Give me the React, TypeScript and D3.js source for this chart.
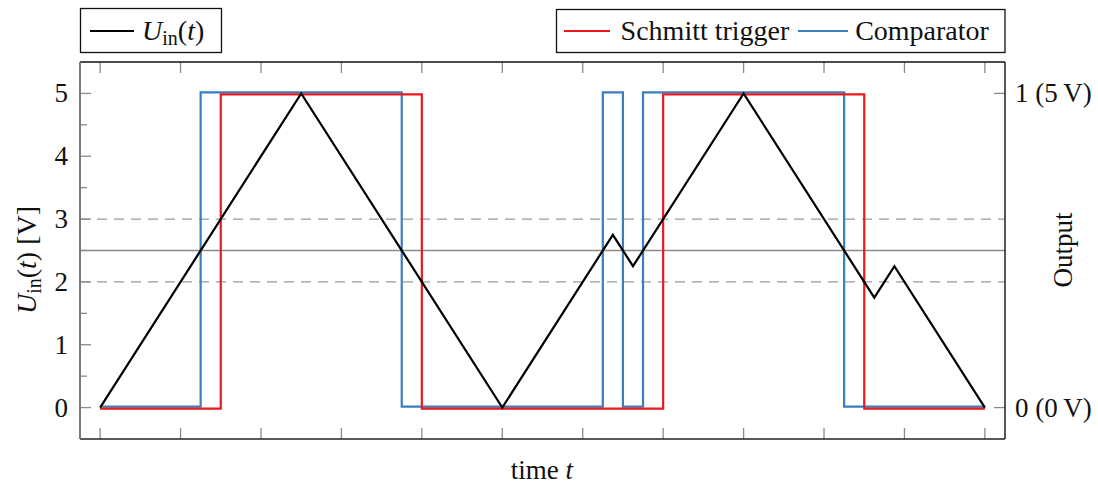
import React from "react";
import * as d3 from "d3";

// ---- data ----
const inputTimes = [0, 2.5, 5, 6.375, 6.625, 8, 9.625, 9.875, 11];
const inputValues = [0, 5, 0, 2.75, 2.25, 5, 1.75, 2.25, 0];

const comparatorTimes = [0, 1.25, 3.75, 6.25, 6.5, 6.75, 9.25, 11];
const comparatorStates = [0, 1, 0, 1, 0, 1, 0, 0];

const schmittTimes = [0, 1.5, 4, 7, 9.5, 11];
const schmittStates = [0, 1, 0, 1, 0, 0];

const upperThreshold = 3;
const lowerThreshold = 2;
const comparatorThreshold = 2.5;

const leftTicks = [0, 1, 2, 3, 4, 5];
const leftMinorTicks = [0.5, 1.5, 2.5, 3.5, 4.5];
const timeTicks = [0, 1, 2, 3, 4, 5, 6, 7, 8, 9, 10, 11];
const outputTicks = [0, 1];
const outputTickLabels = ["0 (0\u2009V)", "1 (5\u2009V)"];

const W = 1098;
const H = 486;
const L = 80, R = 1005, T = 62, B = 439;
const FONT = "'Liberation Serif', 'Times New Roman', serif";
const RED = "#e8191f";
const BLUE = "#3a7fbd";

export default function App() {
  const x = d3.scaleLinear().domain([-0.25, 11.25]).range([L, R]);
  const y = d3.scaleLinear().domain([-0.5, 5.5]).range([B, T]);
  const yOut = d3.scaleLinear().domain([-0.1, 1.1]).range([B, T]);

  const lineIn = d3
    .line<number>()
    .x((_, i) => x(inputTimes[i]))
    .y((v) => y(v));

  const stepComp = d3
    .line<number>()
    .curve(d3.curveStepAfter)
    .x((_, i) => x(comparatorTimes[i]))
    .y((v) => yOut(v));

  const stepSchmitt = d3
    .line<number>()
    .curve(d3.curveStepAfter)
    .x((_, i) => x(schmittTimes[i]))
    .y((v) => yOut(v));

  const tickColor = "#8a8a8a";

  return (
    <svg width={W} height={H} style={{ position: "absolute", left: 0, top: 0 }} fontFamily={FONT}>
      <rect x={0} y={0} width={W} height={H} fill="white" />

      {/* reference lines */}
      {[upperThreshold, lowerThreshold].map((v) => (
        <line key={v} x1={L} x2={R} y1={y(v)} y2={y(v)} stroke="#9a9a9a" strokeWidth={1.4} strokeDasharray="10 7" />
      ))}
      <line x1={L} x2={R} y1={y(comparatorThreshold)} y2={y(comparatorThreshold)} stroke="#8a8a8a" strokeWidth={1.3} />

      {/* ticks */}
      {leftTicks.map((v) => (
        <line key={"lt" + v} x1={L} x2={L + 11} y1={y(v)} y2={y(v)} stroke={tickColor} strokeWidth={1.3} />
      ))}
      {leftMinorTicks.map((v) => (
        <line key={"lm" + v} x1={L} x2={L + 7} y1={y(v)} y2={y(v)} stroke={tickColor} strokeWidth={1.3} />
      ))}
      {timeTicks.map((t) => (
        <g key={"tt" + t}>
          <line x1={x(t)} x2={x(t)} y1={B} y2={B - 11} stroke={tickColor} strokeWidth={1.3} />
          <line x1={x(t)} x2={x(t)} y1={T} y2={T + 11} stroke={tickColor} strokeWidth={1.3} />
        </g>
      ))}
      {outputTicks.map((v) => (
        <line key={"ot" + v} x1={R} x2={R - 11} y1={yOut(v)} y2={yOut(v)} stroke={tickColor} strokeWidth={1.3} />
      ))}

      {/* series */}
      <path d={stepComp(comparatorStates) || ""} fill="none" stroke={BLUE} strokeWidth={2.2} transform="translate(0,-1)" />
      <path d={stepSchmitt(schmittStates) || ""} fill="none" stroke={RED} strokeWidth={2.2} transform="translate(0,1)" />
      <path d={lineIn(inputValues) || ""} fill="none" stroke="#000" strokeWidth={2.2} strokeLinejoin="miter" />

      {/* spines */}
      <line x1={L} x2={R} y1={T} y2={T} stroke="#111" strokeWidth={1.4} />
      <line x1={R} x2={R} y1={T} y2={B} stroke="#111" strokeWidth={1.4} />
      <line x1={L} x2={R} y1={B} y2={B} stroke="#222" strokeWidth={1.6} />
      <line x1={L} x2={L} y1={T} y2={B} stroke="#7a7a7a" strokeWidth={2} />

      {/* tick labels */}
      {leftTicks.map((v) => (
        <text key={"ll" + v} x={68} y={y(v) + 9} textAnchor="end" fontSize={27} fill="#111">
          {v}
        </text>
      ))}
      {outputTicks.map((v, i) => (
        <text key={"ol" + v} x={1015} y={yOut(v) + 9} textAnchor="start" fontSize={27} fill="#111">
          {outputTickLabels[i]}
        </text>
      ))}

      {/* axis labels */}
      <text x={542} y={479} textAnchor="middle" fontSize={27} fill="#111">
        time <tspan fontStyle="italic">t</tspan>
      </text>
      <text transform="translate(36,260) rotate(-90)" textAnchor="middle" fontSize={28} fill="#111">
        <tspan fontStyle="italic">U</tspan>
        <tspan fontSize={20} dy={5}>in</tspan>
        <tspan dy={-5}>(</tspan>
        <tspan fontStyle="italic">t</tspan>
        <tspan>)  [V]</tspan>
      </text>
      <text transform="translate(1072,250) rotate(-90)" textAnchor="middle" fontSize={27} fill="#111">
        Output
      </text>

      {/* left legend */}
      <rect x={80.5} y={8.5} width={141} height={44} fill="white" stroke="#111" strokeWidth={1.3} />
      <line x1={90} x2={134} y1={31} y2={31} stroke="#000" strokeWidth={2.2} />
      <text x={142} y={40} fontSize={28} fill="#111">
        <tspan fontStyle="italic">U</tspan>
        <tspan fontSize={20} dy={5}>in</tspan>
        <tspan dy={-5}>(</tspan>
        <tspan fontStyle="italic">t</tspan>
        <tspan>)</tspan>
      </text>

      {/* right legend */}
      <rect x={556.5} y={9.5} width={448.5} height={43} fill="white" stroke="#111" strokeWidth={1.3} />
      <line x1={564} x2={610} y1={31} y2={31} stroke={RED} strokeWidth={2.2} />
      <text x={705} y={40} textAnchor="middle" fontSize={28} fill="#111">Schmitt trigger</text>
      <line x1={798} x2={848} y1={31} y2={31} stroke={BLUE} strokeWidth={2.2} />
      <text x={922} y={40} textAnchor="middle" fontSize={28} fill="#111">Comparator</text>
    </svg>
  );
}
